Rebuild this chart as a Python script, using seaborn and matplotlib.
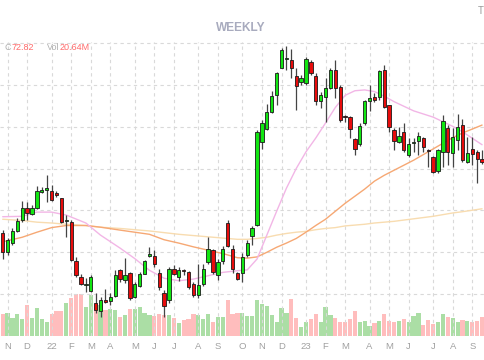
import matplotlib
matplotlib.use("Agg")
import matplotlib.pyplot as plt
import seaborn as sns
import pandas as pd
import numpy as np

# weekly bars, first week starting 2021-10-25
start = "2021-10-25"

opens = [54.6, 50.0, 52.3, 55.1, 57.7, 60.7, 59.1, 60.5, 64.3, 64.9,
         64.7, 64.1, 62.9, 57.4, 57.3, 47.9, 44.2, 42.2, 40.8, 37.9,
         36.0, 38.7, 38.3, 39.5, 45.7, 43.5, 45.1, 39.2, 41.9, 44.9,
         49.1, 49.1, 45.1, 40.2, 38.7, 45.9, 44.0, 45.6, 45.3, 42.5,
         39.7, 42.4, 47.7, 50.5, 44.5, 47.9, 56.9, 50.7, 45.0, 45.1,
         49.3, 53.9, 56.5, 76.3, 79.4, 83.6, 87.7, 94.0, 96.1, 95.9,
         92.2, 90.8, 90.4, 95.5, 92.2, 86.1, 87.2, 89.2, 93.5, 89.6,
         82.4, 82.4, 77.1, 75.8, 81.0, 86.1, 87.0, 87.2, 93.5, 85.2,
         79.2, 76.4, 78.8, 73.2, 76.0, 76.6, 77.2, 74.4, 72.7, 69.4,
         74.0, 79.6, 73.8, 76.8, 80.4, 71.6, 74.6, 74.0, 72.2]
highs = [55.3, 53.4, 55.7, 58.1, 62.3, 62.1, 61.3, 65.8, 65.6, 68.4,
         66.0, 64.7, 63.0, 58.9, 57.7, 48.8, 44.8, 43.8, 44.5, 40.3,
         39.3, 41.2, 40.2, 45.7, 46.1, 48.6, 45.2, 42.9, 45.3, 48.1,
         51.2, 50.5, 45.9, 40.9, 46.5, 46.9, 46.4, 46.1, 45.6, 42.9,
         47.3, 47.2, 53.7, 50.7, 48.3, 51.5, 57.8, 51.7, 45.3, 49.8,
         52.9, 56.3, 79.2, 81.6, 85.5, 88.5, 93.1, 98.8, 99.3, 98.6,
         94.0, 92.4, 96.7, 95.9, 92.8, 88.4, 91.6, 94.1, 95.9, 90.0,
         82.8, 82.6, 77.4, 80.8, 86.4, 90.0, 88.0, 93.5, 94.7, 85.2,
         79.6, 80.0, 80.8, 77.2, 77.2, 78.8, 77.6, 74.8, 73.0, 74.8,
         82.8, 80.4, 79.6, 83.0, 81.8, 77.5, 77.5, 74.4, 74.4]
lows = [48.4, 49.3, 51.7, 54.9, 57.3, 57.7, 58.9, 60.3, 64.1, 62.1,
        62.3, 63.1, 57.0, 53.7, 47.9, 44.1, 42.1, 40.5, 40.5, 35.5,
        34.6, 37.8, 37.4, 39.3, 42.9, 42.6, 38.7, 39.0, 41.6, 44.8,
        48.8, 46.5, 41.1, 34.6, 37.9, 44.5, 43.2, 44.5, 41.3, 39.3,
        39.0, 41.9, 47.3, 44.9, 43.3, 47.3, 51.2, 45.1, 43.3, 42.9,
        48.9, 51.7, 56.2, 74.7, 79.2, 83.3, 85.2, 94.0, 93.5, 91.6,
        84.0, 90.0, 90.0, 92.4, 85.2, 84.5, 81.2, 89.0, 86.8, 81.1,
        81.1, 77.2, 73.2, 75.4, 80.4, 83.7, 86.0, 86.4, 84.4, 78.8,
        74.4, 76.0, 74.0, 72.8, 74.0, 73.2, 74.0, 70.4, 69.0, 69.0,
        70.4, 70.8, 70.4, 74.4, 71.6, 71.4, 70.8, 66.6, 71.2]
closes = [50.1, 52.9, 55.0, 57.5, 60.5, 59.4, 60.5, 64.6, 65.0, 65.3,
          62.6, 63.7, 57.3, 57.8, 48.1, 44.5, 42.4, 42.4, 44.0, 36.2,
          38.7, 38.1, 39.3, 44.5, 43.7, 44.5, 39.0, 42.5, 44.8, 47.9,
          49.7, 47.1, 41.7, 37.1, 46.1, 44.9, 45.7, 45.5, 41.7, 39.7,
          42.1, 45.9, 50.7, 45.3, 47.7, 50.7, 51.5, 45.9, 43.6, 48.8,
          52.3, 55.8, 78.8, 80.8, 83.6, 87.3, 92.8, 98.3, 96.3, 94.0,
          89.8, 91.7, 96.2, 92.8, 86.1, 87.7, 89.2, 93.5, 89.2, 81.6,
          82.3, 79.4, 74.7, 80.2, 86.1, 86.8, 86.4, 93.3, 84.8, 80.0,
          76.6, 77.8, 74.4, 75.9, 76.4, 77.8, 75.2, 74.3, 69.2, 74.4,
          81.4, 74.0, 77.5, 80.0, 72.0, 73.8, 73.6, 72.2, 71.6]
# volume in millions
volumes = [24.2, 25.0, 19.5, 24.2, 18.7, 34.1, 20.1, 30.5, 18.7, 15.1,
           24.2, 27.5, 27.5, 36.6, 42.1, 45.9, 46.2, 32.2, 45.1, 36.3,
           34.1, 28.6, 29.4, 28.6, 21.2, 23.1, 29.4, 29.4, 32.2, 25.0,
           23.1, 22.3, 24.2, 23.1, 23.1, 20.1, 14.0, 17.6, 18.4, 24.2,
           23.1, 18.4, 24.2, 15.1, 21.2, 21.2, 39.3, 24.2, 25.6, 25.6,
           22.3, 22.3, 39.3, 34.9, 33.3, 23.1, 15.1, 30.5, 25.0, 40.7,
           20.1, 9.6, 15.7, 18.7, 24.2, 15.1, 31.9, 23.1, 20.1, 15.1,
           15.7, 18.4, 27.5, 15.7, 16.5, 11.3, 14.0, 16.5, 24.2, 16.5,
           15.1, 16.5, 18.4, 15.1, 22.3, 25.0, 12.1, 17.6, 13.2, 15.7,
           24.2, 21.2, 20.1, 15.7, 17.6, 16.5, 15.1, 16.5, 20.6]

# moving averages read at selected weeks
ma_weeks = [0, 4, 7, 10, 13, 17, 20, 24, 27, 30, 33, 36, 39, 42, 45, 48, 50, 52, 54, 56,
            58, 60, 62, 64, 66, 68, 70, 72, 74, 76, 78, 80, 84, 88, 92, 94, 98]
ma_short = [58.5, 58.6, 59.6, 59.6, 58.9, 57.0, 54.1, 51.0, 48.5, 45.7,
            43.8, 43.2, 43.6, 44.4, 45.2, 45.6, 45.8, 48.4, 54.1, 59.8,
            65.3, 70.0, 74.0, 77.3, 80.9, 84.6, 87.5, 88.6, 88.8, 88.4,
            87.3, 86.0, 83.8, 82.3, 80.1, 78.8, 75.7]
ma_mid = [52.5, 53.6, 54.8, 55.9, 56.4, 56.4, 56.0, 55.3, 54.8, 54.3,
          53.0, 52.2, 51.3, 50.5, 49.7, 48.7, 48.6, 48.9, 50.0, 51.2,
          52.2, 53.3, 54.8, 56.4, 57.9, 59.8, 61.7, 63.4, 65.1, 67.0,
          68.4, 69.6, 72.0, 74.7, 77.4, 78.5, 80.4]
ma_long = [57.9, 57.6, 57.2, 57.0, 56.7, 56.4, 56.0, 55.7, 55.4, 55.1,
           54.7, 54.3, 54.0, 53.7, 53.4, 53.1, 53.1, 53.3, 53.6, 54.1,
           54.5, 54.8, 55.0, 55.4, 55.7, 55.9, 56.3, 56.5, 56.7, 57.0,
           57.2, 57.4, 58.0, 58.6, 59.4, 59.7, 60.4]

tick_dates = ["2021-11-01", "2021-12-01", "2022-01-03", "2022-02-01", "2022-03-01",
              "2022-04-01", "2022-05-02", "2022-06-01", "2022-07-01", "2022-08-01",
              "2022-09-01", "2022-10-03", "2022-11-01", "2022-12-01", "2023-01-03",
              "2023-02-01", "2023-03-01", "2023-04-03", "2023-05-01", "2023-06-01",
              "2023-07-03", "2023-08-01", "2023-09-01"]
tick_labels = ["N", "D", "22", "F", "M", "A", "M", "J", "J", "A", "S",
               "O", "N", "D", "23", "F", "M", "A", "M", "J", "J", "A", "S"]

df = pd.DataFrame({"open": opens, "high": highs, "low": lows,
                   "close": closes, "volume": volumes})
df["week"] = np.arange(len(df))
df["dir"] = np.where(df.close >= df.open, "up", "down")
tick_pos = (pd.to_datetime(tick_dates) - pd.Timestamp(start)).days // 7

sns.set_style("white")
plt.rcParams["font.family"] = ["Liberation Sans", "DejaVu Sans"]

fig = plt.figure(figsize=(4.85, 3.6), dpi=100)
ax = fig.add_axes([0, 24 / 360, 1, 294 / 360])
axv = ax.twinx()
ax.set_zorder(axv.get_zorder() + 1)
ax.patch.set_visible(False)

# volume panel
sns.barplot(data=df, x="week", y="volume", hue="dir",
            palette={"up": "#abdea5", "down": "#ffbdbd"},
            native_scale=True, dodge=False, width=0.86, saturation=1,
            linewidth=0, legend=False, ax=axv)
axv.set_ylim(0, 323)
axv.set_yticks([])
axv.set_ylabel("")

# moving averages
sns.lineplot(x=ma_weeks, y=ma_long, ax=ax, color="#f8dcb0", linewidth=1, zorder=1)
sns.lineplot(x=ma_weeks, y=ma_mid, ax=ax, color="#f6a874", linewidth=1, zorder=1)
sns.lineplot(x=ma_weeks, y=ma_short, ax=ax, color="#f2b6e6", linewidth=1, zorder=1)

# candles
body_lo = np.minimum(df.open, df.close)
body_h = np.maximum((df.close - df.open).abs(), 0.25)
colors = np.where(df.dir == "up", "#12e612", "#e80c0c")
ax.vlines(df.week, df.low, df.high, color="#444444", linewidth=0.9, zorder=2)
ax.bar(df.week, body_h, bottom=body_lo, width=0.68, color=colors,
       edgecolor="#1a1a1a", linewidth=0.6, zorder=3)

ax.set_xlim(-0.55, 98.6)
ax.set_ylim(30, 100.25)
ax.set_yticks([40, 50, 60, 70, 80, 90, 100])
ax.set_xticks(tick_pos)
ax.set_xticklabels(tick_labels)
ax.grid(True, linestyle=(0, (3, 3)), color="#d9d9d9", linewidth=0.8)
ax.tick_params(axis="x", length=0, pad=4, labelsize=6.8, labelcolor="#a0a0a0")
ax.tick_params(axis="y", length=0, labelleft=False)
ax.set_xlabel("")
ax.set_ylabel("")
for a in (ax, axv):
    for s in a.spines.values():
        s.set_visible(False)

fig.text(241 / 485, 1 - 28 / 360, "WEEKLY", ha="center", va="center",
         fontsize=8.6, fontweight="bold", color="#a8abbe")
fig.text(5 / 485, 1 - 47 / 360, "C", ha="left", va="center", fontsize=6.5, color="#b0b0b0")
fig.text(12 / 485, 1 - 47 / 360, "72.82", ha="left", va="center", fontsize=6.5, color="#ff6b6b")
fig.text(46.5 / 485, 1 - 47 / 360, "Vol", ha="left", va="center", fontsize=6.5, color="#b0b0b0")
fig.text(59.5 / 485, 1 - 47 / 360, "20.64M", ha="left", va="center", fontsize=6.5, color="#ff6b6b")
fig.text(484 / 485, 1 - 11 / 360, "T", ha="right", va="center", fontsize=7, color="#999999")

fig.savefig("out.png", dpi=100)
